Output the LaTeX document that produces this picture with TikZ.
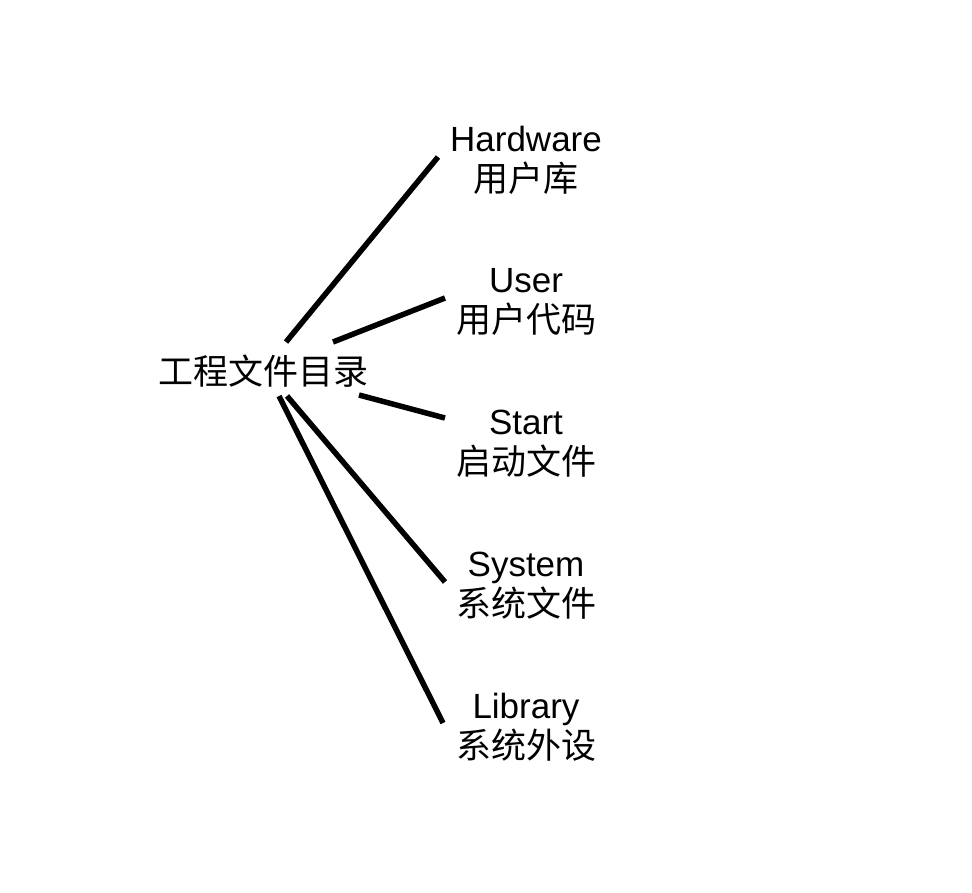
\documentclass[tikz,border=0pt]{standalone}
\usepackage{fontspec}
\setmainfont{Liberation Sans}
\newfontfamily\cjk{Noto Sans CJK SC}
\begin{document}
\begin{tikzpicture}[x=1pt,y=-1pt,
  lbl/.style={inner sep=0pt,align=center,font=\fontsize{35}{40}\selectfont},
  conn/.style={line width=5.5pt,black}]
\useasboundingbox (0,0) rectangle (972,892);
\node[lbl] (root) at (263,371) {\cjk 工程文件目录};
\node[lbl] (hw) at (526,160) {Hardware\\\cjk 用户库};
\node[lbl] (user) at (526,302) {User\\\cjk 用户代码};
\node[lbl] (start) at (526,444) {Start\\\cjk 启动文件};
\node[lbl] (sys) at (526,586) {System\\\cjk 系统文件};
\node[lbl] (lib) at (526,727) {Library\\\cjk 系统外设};
\coordinate (r1) at (286,342); \coordinate (e1) at (438,157);
\coordinate (r2) at (333,342); \coordinate (e2) at (445,298);
\coordinate (r3) at (359,395); \coordinate (e3) at (445,418);
\coordinate (r4) at (287,396); \coordinate (e4) at (445,582);
\coordinate (r5) at (279,396); \coordinate (e5) at (443,723);
\draw[conn] (r1) -- (e1);
\draw[conn] (r2) -- (e2);
\draw[conn] (r3) -- (e3);
\draw[conn] (r4) -- (e4);
\draw[conn] (r5) -- (e5);
\end{tikzpicture}
\end{document}
